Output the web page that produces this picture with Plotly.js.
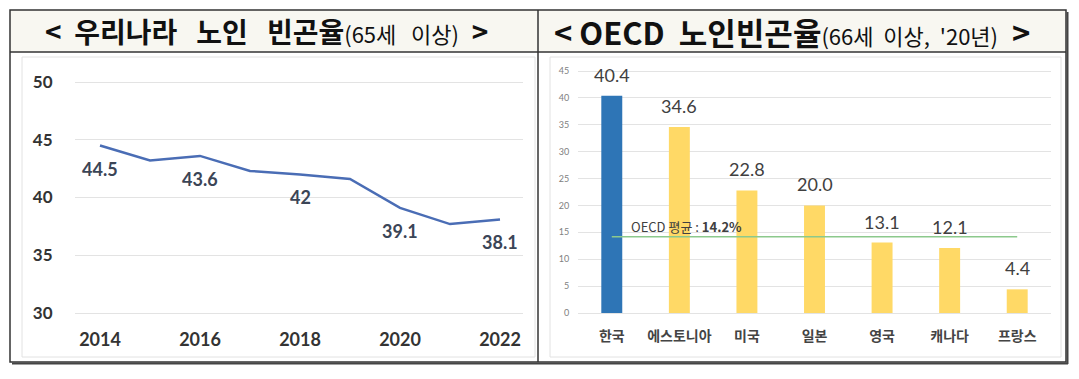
<!DOCTYPE html>
<html><head><meta charset="utf-8">
<script src="https://cdn.plot.ly/plotly-3.0.1.min.js"></script>
<style>html,body{margin:0;padding:0;background:#fff;} #chart{width:1079px;height:379px;}</style>
</head><body><div id="chart"></div>
<script>
// ---- data ----
const years = [2014, 2015, 2016, 2017, 2018, 2019, 2020, 2021, 2022];
const krRate = [44.5, 43.2, 43.6, 42.3, 42.0, 41.6, 39.1, 37.7, 38.1];
const krLabels = ['44.5', '', '43.6', '', '42', '', '39.1', '', '38.1'];
const yearTicks = [2014, 2016, 2018, 2020, 2022];
const krYTicks = [30, 35, 40, 45, 50];
const countries = ['한국', '에스토니아', '미국', '일본', '영국', '캐나다', '프랑스'];
const oecdRate = [40.4, 34.6, 22.8, 20.0, 13.1, 12.1, 4.4];
const oecdLabels = ['40.4', '34.6', '22.8', '20.0', '13.1', '12.1', '4.4'];
const oecdAvg = 14.2;
const oecdAvgText = 'OECD 평균 : <b>14.2%</b>';
const leftTitleParts = ['<', '우리나라', '노인', '빈곤율'];
const leftTitleSub = ['(65세', '이상)'];
const rightTitleParts = ['<', 'OECD', '노인빈곤율'];
const rightTitleSub = ['(66세', '이상,', "'20년)"];

// ---- layout helpers (pixel -> paper) ----
const W = 1079, H = 379;
const px = x => x / W;
const py = y => 1 - y / H;
const KR = 'Noto Sans CJK KR';
const NUM = 'Lato';
const sp = n => '&nbsp;'.repeat(n);

const blue = '#2e75b6', yellow = '#ffd966';

const traces = [
  {
    x: years, y: krRate, type: 'scatter', mode: 'lines',
    line: {color: '#4a6db5', width: 2.5}, xaxis: 'x', yaxis: 'y', hoverinfo: 'skip'
  },
  {
    x: countries, y: oecdRate, type: 'bar', width: 0.31,
    marker: {color: countries.map(c => c === '한국' ? blue : yellow)},
    xaxis: 'x2', yaxis: 'y2', hoverinfo: 'skip'
  },
  {
    x: [countries[0], countries[countries.length - 1]], y: [oecdAvg, oecdAvg],
    type: 'scatter', mode: 'lines', line: {color: '#8cc98c', width: 1.5},
    xaxis: 'x2', yaxis: 'y2', hoverinfo: 'skip'
  }
];

const esc = s => s.replace(/</g, '&lt;').replace(/>/g, '&gt;');
const leftTitle = '<b>' + esc(leftTitleParts[0]) + sp(2) + leftTitleParts[1] + sp(3) + leftTitleParts[2] + sp(3) + leftTitleParts[3] + '</b>' +
  '<span style="font-size:22px">' + leftTitleSub.join(sp(3)) + '</span><b>' + sp(2) + '&gt;</b>';
const rightTitle = '<b>' + esc(rightTitleParts[0]) + sp(1) + rightTitleParts[1] + sp(2) + rightTitleParts[2] + '</b>' +
  '<span style="font-size:22px">' + rightTitleSub.join(sp(2)) + '</span><b>' + sp(2) + '&gt;</b>';

const annotations = [];
annotations.push({
  xref: 'paper', yref: 'paper', x: px(266), y: py(31), xanchor: 'center', yanchor: 'middle',
  showarrow: false, text: leftTitle, font: {family: KR, size: 28, color: '#111'}
});
annotations.push({
  xref: 'paper', yref: 'paper', x: px(792), y: py(31), xanchor: 'center', yanchor: 'middle',
  showarrow: false, text: rightTitle, font: {family: KR, size: 31, color: '#111'}
});
years.forEach((yr, i) => {
  if (!krLabels[i]) return;
  annotations.push({
    xref: 'x', yref: 'y', x: yr, y: krRate[i], yshift: -23, xanchor: 'center', yanchor: 'middle',
    showarrow: false, text: krLabels[i],
    font: {family: NUM, size: 18, color: '#3b4556', weight: 700}
  });
});
countries.forEach((c, i) => {
  annotations.push({
    xref: 'x2', yref: 'y2', x: c, y: oecdRate[i], yshift: 8, xanchor: 'center', yanchor: 'bottom',
    showarrow: false, text: oecdLabels[i],
    font: {family: NUM, size: 18, color: '#404040'}
  });
});
annotations.push({
  xref: 'x2', yref: 'y2', x: countries[0], y: oecdAvg, xshift: 17, yshift: 10,
  xanchor: 'left', yanchor: 'middle', showarrow: false, text: oecdAvgText,
  font: {family: KR, size: 13, color: '#404040'}
});

const shapes = [
  {type: 'rect', xref: 'paper', yref: 'paper', x0: px(10), x1: px(1066), y0: py(52), y1: py(10),
   fillcolor: '#f8f7f1', line: {width: 0}, layer: 'below'},
  {type: 'rect', xref: 'paper', yref: 'paper', x0: px(22), x1: px(535), y0: py(357), y1: py(57),
   fillcolor: 'rgba(0,0,0,0)', line: {color: '#e2e2e2', width: 1}, layer: 'below'},
  {type: 'rect', xref: 'paper', yref: 'paper', x0: px(550), x1: px(1061), y0: py(357), y1: py(57),
   fillcolor: 'rgba(0,0,0,0)', line: {color: '#e2e2e2', width: 1}, layer: 'below'},
  {type: 'rect', xref: 'paper', yref: 'paper', x0: px(10), x1: px(1066), y0: py(362), y1: py(10),
   fillcolor: 'rgba(0,0,0,0)', line: {color: '#333', width: 1.5}},
  {type: 'line', xref: 'paper', yref: 'paper', x0: px(10), x1: px(1066), y0: py(52), y1: py(52),
   line: {color: '#333', width: 1.5}},
  {type: 'line', xref: 'paper', yref: 'paper', x0: px(538), x1: px(538), y0: py(10), y1: py(362),
   line: {color: '#333', width: 1.5}},
  {type: 'line', xref: 'paper', yref: 'paper', x0: px(12), x1: px(1068), y0: py(363.5), y1: py(363.5),
   line: {color: '#444', width: 2}},
  {type: 'line', xref: 'paper', yref: 'paper', x0: px(1067.5), x1: px(1067.5), y0: py(12), y1: py(364),
   line: {color: '#444', width: 2}}
];

const layout = {
  width: W, height: H, margin: {l: 0, r: 0, t: 0, b: 0},
  paper_bgcolor: '#fff', plot_bgcolor: 'rgba(0,0,0,0)', showlegend: false,
  xaxis: {
    domain: [px(75), px(523)], range: [2013.5, 2022.46], tickvals: yearTicks,
    showgrid: false, zeroline: false, showline: false,
    ticks: 'outside', ticklen: 7, tickcolor: 'rgba(0,0,0,0)',
    tickfont: {family: NUM, size: 18, color: '#333', weight: 700}, anchor: 'y'
  },
  yaxis: {
    domain: [py(316), py(79)], range: [30 - 3 * 20 / 231, 50 + 3 * 20 / 231], tickvals: krYTicks,
    showgrid: true, gridcolor: '#e3e3e3', gridwidth: 1, zeroline: false, showline: false,
    ticks: 'outside', ticklen: 18, tickcolor: 'rgba(0,0,0,0)',
    tickfont: {family: NUM, size: 17, color: '#333', weight: 700}, anchor: 'x'
  },
  xaxis2: {
    domain: [px(578), px(1051)], range: [-0.5, 6.5], type: 'category',
    showgrid: false, zeroline: false, showline: false,
    ticks: 'outside', ticklen: 7, tickcolor: 'rgba(0,0,0,0)',
    tickfont: {family: KR, size: 14, color: '#444', weight: 700}, anchor: 'y2'
  },
  yaxis2: {
    domain: [py(316), py(68)], range: [-3 * 45 / 242, 45 + 3 * 45 / 242], dtick: 5, tick0: 0,
    showgrid: true, gridcolor: '#e3e3e3', gridwidth: 1, zeroline: false, showline: false,
    ticks: 'outside', ticklen: 6, tickcolor: 'rgba(0,0,0,0)',
    tickfont: {family: NUM, size: 9, color: '#808080'}, anchor: 'x2'
  },
  annotations: annotations,
  shapes: shapes
};

Plotly.newPlot('chart', traces, layout, {staticPlot: true, displayModeBar: false});
</script>
</body></html>
